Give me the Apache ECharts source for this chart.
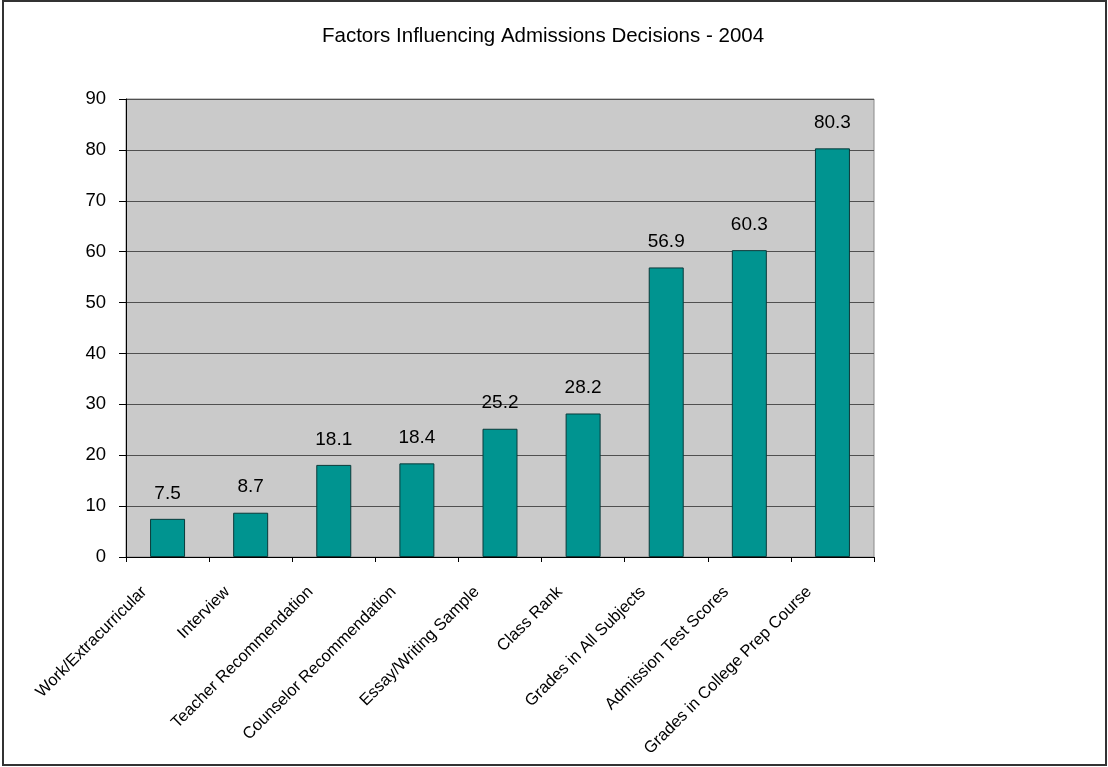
<!DOCTYPE html>
<html><head><meta charset="utf-8">
<style>html,body{margin:0;padding:0;background:#fff;}#c{width:1108px;height:767px;}</style>
<script src="https://cdn.jsdelivr.net/npm/echarts@6/dist/echarts.min.js"></script>
</head><body><div id="c"></div>
<script>
const categories = ["Work/Extracurricular","Interview","Teacher Recommendation","Counselor Recommendation","Essay/Writing Sample","Class Rank","Grades in All Subjects","Admission Test Scores","Grades in College Prep Course"];
const values = [7.5, 8.7, 18.1, 18.4, 25.2, 28.2, 56.9, 60.3, 80.3];
const titleText = "Factors Influencing Admissions Decisions - 2004";
const yMin = 0, yMax = 90, yStep = 10;

const chart = echarts.init(document.getElementById('c'));
chart.setOption({
  animation: false,
  backgroundColor: '#ffffff',
  title: {
    text: titleText, left: 317, top: 21,
    textStyle: { fontFamily: 'Liberation Sans, Arial', fontSize: 20.5, fontWeight: 'normal', color: '#000' }
  },
  graphic: [{
    type: 'rect', shape: { x: 3, y: 1, width: 1103, height: 764 },
    style: { fill: 'none', stroke: '#333', lineWidth: 2 }, silent: true
  }],
  grid: {
    left: 126, right: 234, top: 99, bottom: 210,
    show: true, backgroundColor: '#CACACA', borderColor: '#8a8a8a', borderWidth: 1
  },
  xAxis: {
    type: 'category', data: categories, boundaryGap: true,
    axisLine: { show: true, lineStyle: { color: '#000', width: 1 } },
    axisTick: { show: true, alignWithLabel: false, length: 5, lineStyle: { color: '#000' } },
    axisLabel: {
      interval: 0, rotate: 45, margin: 9, padding: [0, 33, 0, 0],
      fontFamily: 'Liberation Sans, Arial', fontSize: 16.5, color: '#000'
    }
  },
  yAxis: {
    type: 'value', min: yMin, max: yMax, interval: yStep,
    axisLine: { show: true, lineStyle: { color: '#000', width: 1 } },
    axisTick: { show: true, length: 7, lineStyle: { color: '#000' } },
    axisLabel: { margin: 20, fontFamily: 'Liberation Sans, Arial', fontSize: 18.5, color: '#000' },
    splitLine: { show: true, lineStyle: { color: '#505050', width: 1 } }
  },
  series: [{
    type: 'bar', data: values, barWidth: 35,
    itemStyle: { color: '#009490', borderColor: '#0a3a3a', borderWidth: 1 },
    label: {
      show: true, position: 'top', distance: 16,
      fontFamily: 'Liberation Sans, Arial', fontSize: 19, color: '#000'
    }
  }]
});
</script></body></html>
